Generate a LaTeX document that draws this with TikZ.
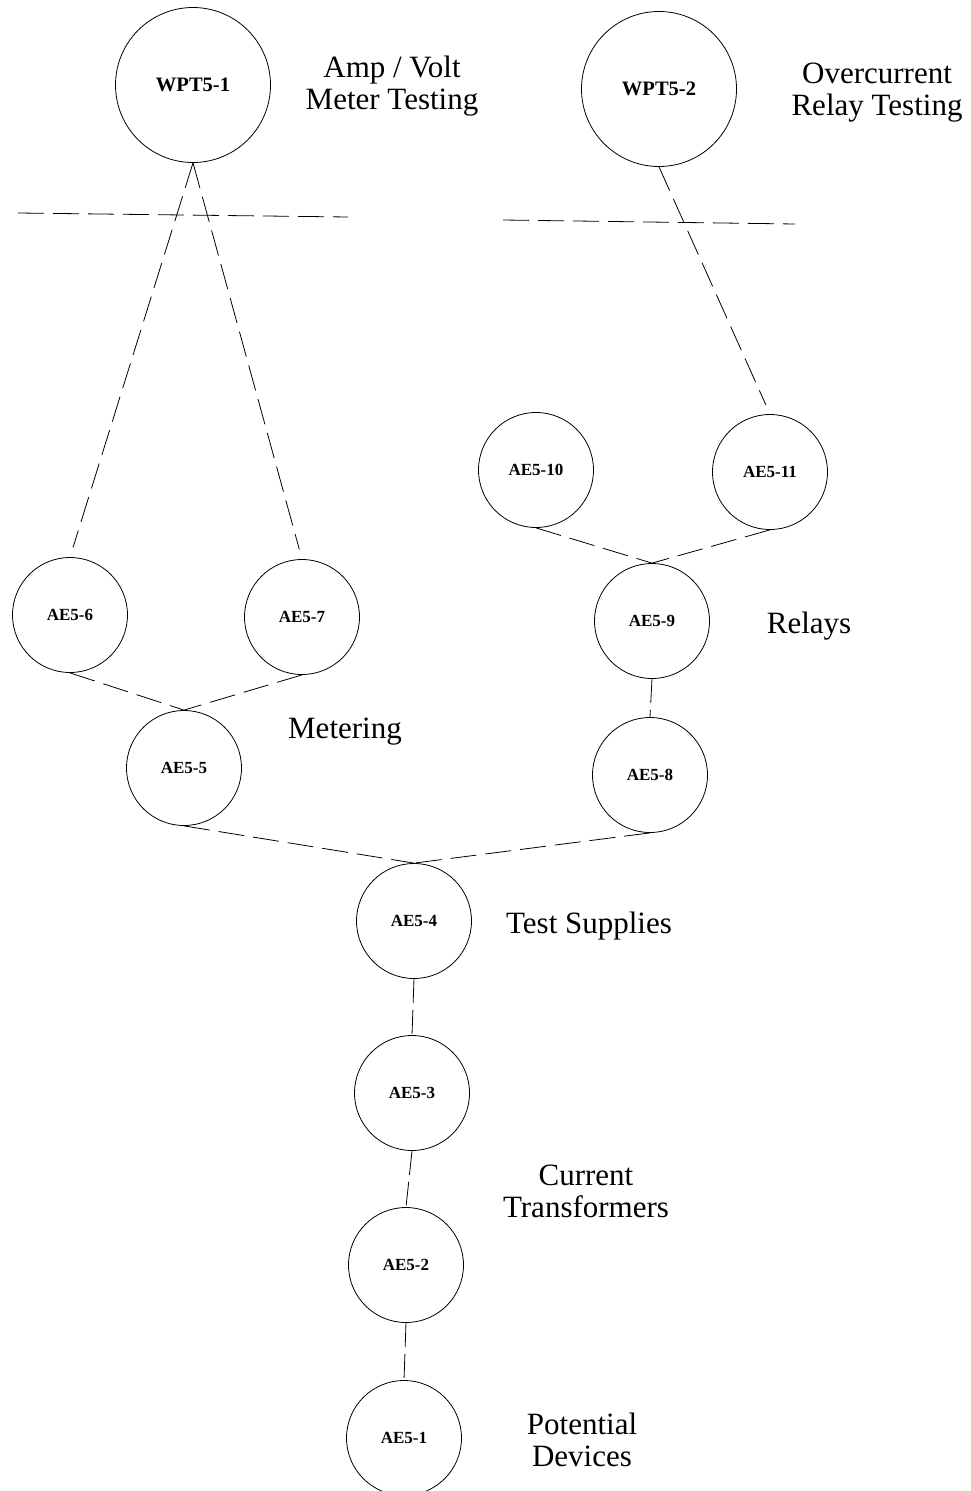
\documentclass[tikz,border=0pt]{standalone}
\usepackage{fontspec}
\setmainfont{Liberation Serif}
\begin{document}
\begin{tikzpicture}[x=1pt,y=-1pt,
  bubble/.style={circle,draw,line width=0.8pt,inner sep=0pt,minimum size=115pt,
    font=\fontsize{17}{17}\selectfont\bfseries},
  topbubble/.style={bubble,minimum size=155pt,font=\fontsize{20.5}{20.5}\selectfont\bfseries},
  caption/.style={align=center,font=\fontsize{31}{32}\selectfont},
  conn/.style={line width=0.8pt,dash pattern=on 26pt off 9pt},
  tie/.style={line width=0.8pt,dash pattern=on 24pt off 7pt}]
\useasboundingbox (0,0) rectangle (970,1491);

% work packages
\node[topbubble] (wpt1) at (193,85) {WPT5-1};
\node[topbubble] (wpt2) at (659,89) {WPT5-2};
\node[caption] at (392,86) {Amp / Volt\\Meter Testing};
\node[caption] at (877,93) {Overcurrent\\Relay Testing};

% separators under the work packages
\draw[conn] (18,213) -- (348,217);
\draw[conn] (503,220) -- (795,224);

% elements
\node[bubble] (ae10) at (536,470) {AE5-10};
\node[bubble] (ae11) at (770,472) {AE5-11};
\node[bubble] (ae6) at (70,615) {AE5-6};
\node[bubble] (ae7) at (302,617) {AE5-7};
\node[bubble] (ae9) at (652,621) {AE5-9};
\node[bubble] (ae5) at (184,768) {AE5-5};
\node[bubble] (ae8) at (650,775) {AE5-8};
\node[bubble] (ae4) at (414,921) {AE5-4};
\node[bubble] (ae3) at (412,1093) {AE5-3};
\node[bubble] (ae2) at (406,1265) {AE5-2};
\node[bubble] (ae1) at (404,1438) {AE5-1};

% group captions
\node[caption] at (809,626) {Relays};
\node[caption] at (345,732) {Metering};
\node[caption] at (589,926) {Test Supplies};
\node[caption] at (586,1191) {Current\\Transformers};
\node[caption] at (582,1440) {Potential\\Devices};

% links from the work packages
\draw[conn,shorten >=10pt] (wpt1.south) -- (ae6.north);
\draw[conn,shorten >=10pt] (wpt1.south) -- (ae7.north);
\draw[conn,shorten >=10pt] (wpt2.south) -- (ae11.north);

% element tree
\draw[conn] (ae10.south) -- (ae9.north);
\draw[conn] (ae11.south) -- (ae9.north);
\draw[tie] (ae9.south) -- (ae8.north);
\draw[conn] (ae6.south) -- (ae5.north);
\draw[conn] (ae7.south) -- (ae5.north);
\draw[conn] (ae5.south) -- (ae4.north);
\draw[conn] (ae8.south) -- (ae4.north);
\draw[tie] (ae4.south) -- (ae3.north);
\draw[tie] (ae3.south) -- (ae2.north);
\draw[tie] (ae2.south) -- (ae1.north);
\end{tikzpicture}
\end{document}
